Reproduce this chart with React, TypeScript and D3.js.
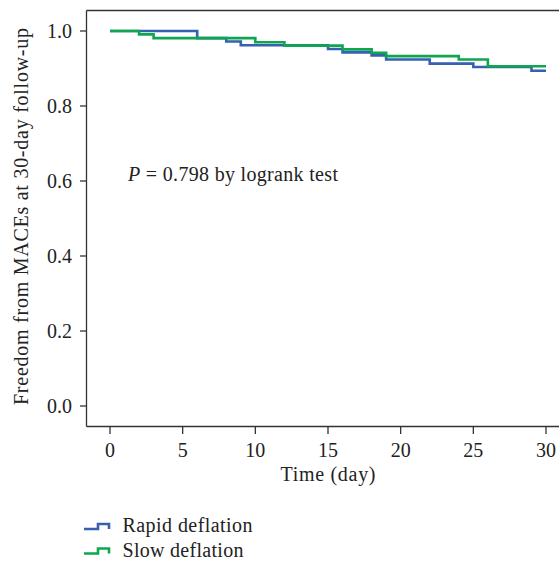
import React from "react";
import * as d3 from "d3";

const rapidTimes = [0, 6, 8, 9, 15, 16, 18, 19, 22, 25, 29, 30];
const rapidSurv = [1.0, 0.981, 0.972, 0.962, 0.952, 0.943, 0.935, 0.924, 0.913, 0.904, 0.894, 0.894];
const slowTimes = [0, 2, 3, 10, 12, 16, 18, 19, 24, 26, 30];
const slowSurv = [1.0, 0.991, 0.981, 0.970, 0.961, 0.951, 0.942, 0.933, 0.924, 0.906, 0.906];
const xTicks = [0, 5, 10, 15, 20, 25, 30];
const yTicks = [0.0, 0.2, 0.4, 0.6, 0.8, 1.0];
const seriesNames = ["Rapid deflation", "Slow deflation"];
const seriesColors = ["#3561ae", "#0ea64f"];
const legendWidths = [130, 121];

const W = 559, H = 563;
const FONT = "'Liberation Serif', 'Times New Roman', serif";

export default function App() {
  const x = d3.scaleLinear().domain([0, 30]).range([110, 546]);
  const y = d3.scaleLinear().domain([0, 1]).range([406, 31]);
  const line = d3.line<[number, number]>().x(d => x(d[0])).y(d => y(d[1])).curve(d3.curveStepAfter);
  const rapid = rapidTimes.map((t, i) => [t, rapidSurv[i]] as [number, number]);
  const slow = slowTimes.map((t, i) => [t, slowSurv[i]] as [number, number]);
  const axisColor = "#333";
  const left = 86.5, top = 10.5, bottom = 426.5;
  return (
    <svg width={W} height={H} style={{ position: "absolute", left: 0, top: 0, background: "#fff" }} fontFamily={FONT}>
      <line x1={left} x2={W + 5} y1={top} y2={top} stroke={axisColor} strokeWidth={1.3} />
      <line x1={left} x2={W + 5} y1={bottom} y2={bottom} stroke={axisColor} strokeWidth={1.3} />
      <line x1={left} x2={left} y1={top} y2={bottom} stroke={axisColor} strokeWidth={1.3} />
      {yTicks.map(t => (
        <g key={t}>
          <line x1={80} x2={left} y1={y(t)} y2={y(t)} stroke={axisColor} strokeWidth={1.3} />
          <text x={72} y={y(t)} dy="0.35em" textAnchor="end" fontSize={20} fill="#222">{t.toFixed(1)}</text>
        </g>
      ))}
      {xTicks.map(t => (
        <g key={t}>
          <line x1={x(t)} x2={x(t)} y1={bottom} y2={434} stroke={axisColor} strokeWidth={1.3} />
          <text x={x(t)} y={457} textAnchor="middle" fontSize={20} fill="#222">{t}</text>
        </g>
      ))}
      <text x={x(15)} y={480.5} textAnchor="middle" fontSize={20} fill="#222" textLength={95}>Time (day)</text>
      <text transform={`translate(28,${(28 + 405) / 2}) rotate(-90)`} textAnchor="middle" fontSize={20} fill="#222" textLength={377}>Freedom from MACEs at 30-day follow-up</text>
      <text x={128} y={181} fontSize={20} fill="#222" textLength={210}><tspan fontStyle="italic">P</tspan> = 0.798 by logrank test</text>
      <path d={line(rapid) || ""} fill="none" stroke={seriesColors[0]} strokeWidth={2.6} />
      <path d={line(slow) || ""} fill="none" stroke={seriesColors[1]} strokeWidth={2.6} />
      {seriesNames.map((n, i) => {
        const yy = 529 + i * 24.5;
        return (
          <g key={n}>
            <path d={`M84,${yy}H98V${yy - 5}H109V${yy}`} fill="none" stroke={seriesColors[i]} strokeWidth={2.6} />
            <text x={122.5} y={yy + 3} fontSize={20} fill="#222" textLength={legendWidths[i]}>{n}</text>
          </g>
        );
      })}
    </svg>
  );
}
